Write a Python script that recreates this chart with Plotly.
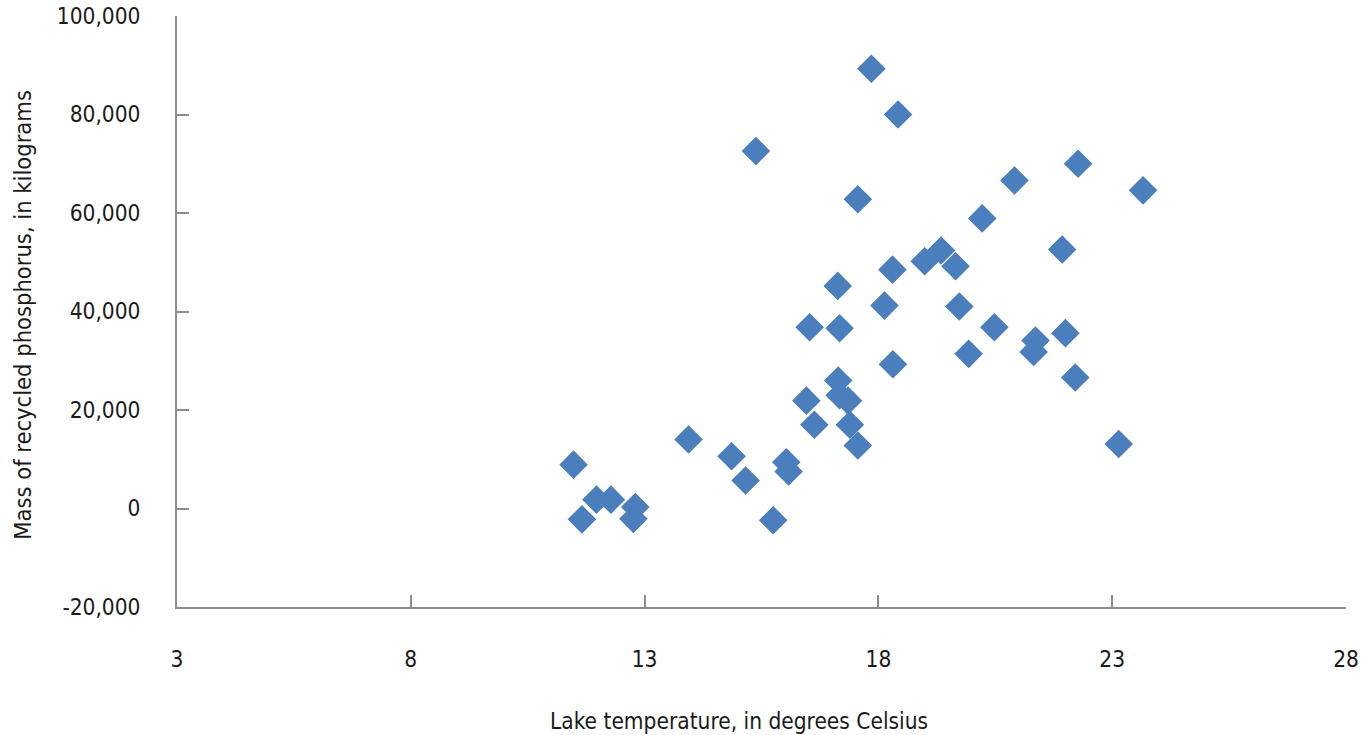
import plotly.graph_objects as go

# Lake temperature (degrees Celsius) and mass of recycled phosphorus (kg)
temperature_c = [
    11.48, 11.66, 11.97, 12.28, 12.80, 12.76, 13.94, 14.86, 15.16, 15.75,
    16.03, 16.08, 15.38, 16.46, 16.63, 16.53, 17.13, 17.17, 17.14, 17.17,
    17.35, 17.39, 17.56, 17.56, 17.85, 18.42, 18.13, 18.31, 18.30, 18.99,
    19.34, 19.65, 19.73, 19.93, 20.22, 20.48, 20.91, 21.36, 21.32, 21.93,
    22.00, 22.21, 22.27, 23.14, 23.66,
]
phosphorus_kg = [
    8900, -2200, 1800, 1800, 300, -2100, 14000, 10600, 5700, -2400,
    9400, 7500, 72600, 21900, 17000, 36800, 45200, 36600, 26000, 23000,
    21900, 17000, 12800, 62800, 89300, 80000, 41200, 29300, 48500, 50200,
    52400, 49200, 41000, 31400, 58900, 36800, 66600, 34100, 31800, 52600,
    35600, 26600, 70000, 13100, 64600,
]

x_ticks = [3, 8, 13, 18, 23, 28]
y_ticks = [-20000, 0, 20000, 40000, 60000, 80000, 100000]
y_tick_text = ["-20,000", "0", "20,000", "40,000", "60,000", "80,000", "100,000"]

FONT = "Liberation Sans Narrow, Arial Narrow, DejaVu Sans Condensed, sans-serif"
AXIS_GRAY = "#8c8c8c"

fig = go.Figure(
    go.Scatter(
        x=temperature_c,
        y=phosphorus_kg,
        mode="markers",
        marker=dict(symbol="diamond", size=22, color="#4a7ebd", line=dict(width=0)),
        cliponaxis=False,
        showlegend=False,
    )
)

fig.update_layout(
    width=1372,
    height=735,
    margin=dict(l=176.5, r=26.3, t=16, b=128.3),
    paper_bgcolor="white",
    plot_bgcolor="white",
    font=dict(family=FONT, size=22, color="#1a1a1a"),
    xaxis=dict(
        range=[3, 28],
        tickvals=x_ticks,
        ticktext=[str(v) for v in x_ticks],
        ticks="inside",
        ticklen=12,
        tickwidth=2,
        tickcolor=AXIS_GRAY,
        showline=True,
        linecolor=AXIS_GRAY,
        linewidth=2,
        showgrid=False,
        zeroline=False,
        automargin=False,
        ticklabelstandoff=31,
        tickfont=dict(size=22.5),
    ),
    yaxis=dict(
        range=[-20000, 100000],
        tickvals=y_ticks,
        ticktext=y_tick_text,
        ticks="inside",
        ticklen=12,
        tickwidth=2,
        tickcolor=AXIS_GRAY,
        showline=True,
        linecolor=AXIS_GRAY,
        linewidth=2,
        showgrid=False,
        zeroline=False,
        automargin=False,
        ticklabelstandoff=30,
        tickfont=dict(size=22.5),
    ),
    annotations=[
        dict(
            text="Lake temperature, in degrees Celsius",
            xref="paper", yref="paper",
            x=0.481, y=-0.1935,
            xanchor="center", yanchor="middle",
            showarrow=False,
            font=dict(size=22.5),
        ),
        dict(
            text="Mass of recycled phosphorus, in kilograms",
            xref="paper", yref="paper",
            x=-0.132, y=0.494,
            xanchor="center", yanchor="middle",
            textangle=-90,
            showarrow=False,
            font=dict(size=23.5),
        ),
    ],
)

fig.write_html("out.html")
